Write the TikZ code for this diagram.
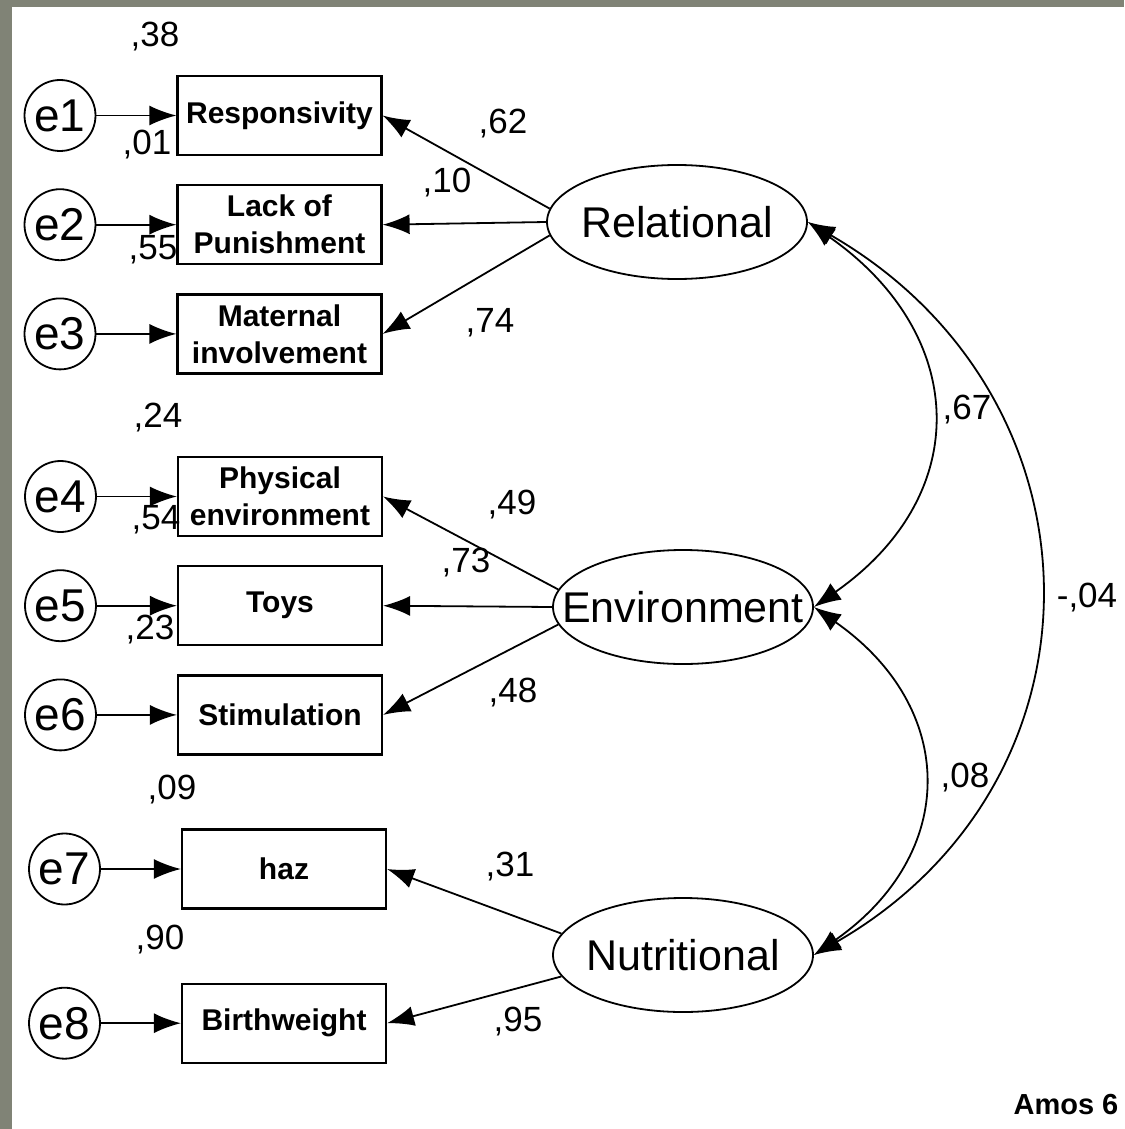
\documentclass[tikz,border=0pt]{standalone}
\usepackage{fontspec}
\setmainfont{Liberation Sans}
\usepackage{tikz}
\usetikzlibrary{arrows.meta}
\usetikzlibrary{shapes.geometric, positioning}

\definecolor{framegray}{RGB}{128,131,118}

\begin{document}
\begin{tikzpicture}[x=1pt,y=1pt,->,>={Latex[length=27pt,width=20pt]},line width=1.8pt,
    obs node/.style={rectangle,draw,line width=2.2pt,minimum width=204pt,minimum height=79pt,inner sep=0pt,align=center,font=\fontsize{30}{37}\selectfont\bfseries},
    err node/.style={circle,draw,minimum size=71pt,inner sep=0pt,font=\fontsize{46}{46}\selectfont},
    lat node/.style={ellipse,draw,minimum width=260pt,minimum height=114pt,inner xsep=-40pt,inner ysep=0pt,font=\fontsize{43}{43}\selectfont},
    coef/.style={inner sep=0pt,font=\fontsize{35}{35}\selectfont}]

    \useasboundingbox (0,0) rectangle (1124,-1129);
    \fill[framegray,-] (0,0) rectangle (1124,-1129);
    \fill[white,-] (12,-7) rectangle (1124,-1129);

    \node[obs node] (resp) at (279.5,-115.5)   {Responsivity};
    \node[obs node] (lack) [below=28pt of resp]  {Lack of\\Punishment};
    \node[obs node] (mat)  [below=28pt of lack]  {Maternal\\involvement};
    \node[obs node] (phys) at (280,-496.5)     {Physical\\environment};
    \node[obs node] (toys) [below=28pt of phys]  {Toys};
    \node[obs node] (stim) [below=28pt of toys]  {Stimulation};
    \node[obs node] (haz)  at (284,-869)       {haz};
    \node[obs node] (birth) [below=73pt of haz]  {Birthweight};

    \node[err node] (e1) [left=80pt of resp]  {e1};
    \node[err node] (e2) [left=80pt of lack]  {e2};
    \node[err node] (e3) [left=80pt of mat]   {e3};
    \node[err node] (e4) [left=80pt of phys]  {e4};
    \node[err node] (e5) [left=80pt of toys]  {e5};
    \node[err node] (e6) [left=80pt of stim]  {e6};
    \node[err node] (e7) [left=80pt of haz]   {e7};
    \node[err node] (e8) [left=80pt of birth] {e8};

    \node[lat node] (rel) at (677,-222) {Relational};
    \node[lat node] (env) at (683,-607) {Environment};
    \node[lat node] (nut) at (683,-955) {Nutritional};

    \path
      (e1) edge (resp)
      (e2) edge (lack)
      (e3) edge (mat)
      (e4) edge (phys)
      (e5) edge (toys)
      (e6) edge (stim)
      (e7) edge (haz)
      (e8) edge (birth);

    \path
      (rel.174)  edge (resp.east)
      (rel.west) edge (lack.east)
      (rel.186)  edge (mat.east)
      (env.172)  edge (phys.east)
      (env.west) edge (toys.east)
      (env.188)  edge (stim.east)
      (nut.170)  edge (haz.east)
      (nut.190)  edge (birth.east);

    \path
      (rel.east) edge [<->, out=-35, in=35, looseness=1.3]  (env.east)
      (env.east) edge [<->, out=-35, in=35, looseness=1.3]  (nut.east)
      (rel.east) edge [<->, out=-30, in=30, looseness=1.22] (nut.east);

    \node[coef] (r1)  at (155,-37)   {,38};
    \node[coef] (r2)  at (147,-145)  {,01};
    \node[coef] (r3)  at (153,-250)  {,55};
    \node[coef] (w1)  at (503,-124)  {,62};
    \node[coef] (w2)  at (447,-183)  {,10};
    \node[coef] (w3)  at (490,-323)  {,74};
    \node[coef] (r4)  at (158,-418)  {,24};
    \node[coef] (r5)  at (156,-520)  {,54};
    \node[coef] (r6)  at (150,-630)  {,23};
    \node[coef] (w4)  at (512,-505)  {,49};
    \node[coef] (w5)  at (466,-563)  {,73};
    \node[coef] (w6)  at (513,-693)  {,48};
    \node[coef] (r7)  at (172,-790)  {,09};
    \node[coef] (r8)  at (160,-940)  {,90};
    \node[coef] (w7)  at (510,-867)  {,31};
    \node[coef] (w8)  at (518,-1022) {,95};
    \node[coef] (c1)  at (967,-410)  {,67};
    \node[coef] (c2)  at (965,-778)  {,08};
    \node[coef] (c3)  at (1087,-598) {-,04};

    \node[font=\fontsize{29}{29}\selectfont\bfseries] (amos) at (1066,-1105) {Amos 6};
\end{tikzpicture}
\end{document}
